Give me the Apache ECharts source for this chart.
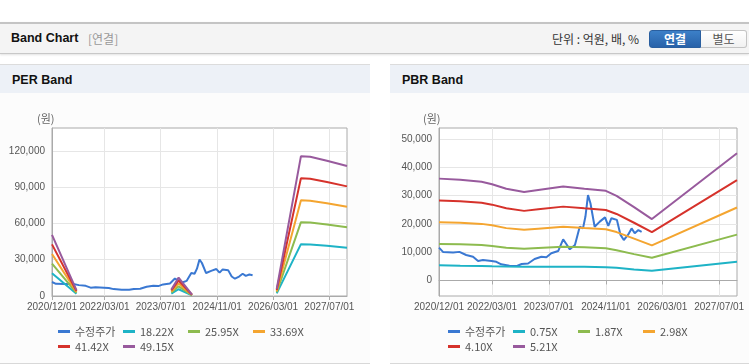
<!DOCTYPE html>
<html>
<head>
<meta charset="utf-8">
<script src="https://cdn.jsdelivr.net/npm/echarts@6/dist/echarts.min.js"></script>
<style>
  html, body { margin: 0; padding: 0; background: #fff; }
  body { width: 749px; height: 364px; position: relative; overflow: hidden; font-family: "Noto Sans CJK KR", Arial, sans-serif; }
  #top { position: absolute; left: 0; top: 22px; width: 749px; height: 29px; background: #f4f4f4; border-top: 2px solid #c4c4c4; border-bottom: 1px solid #c8c8c8; box-shadow: 0 1px 2px #e2e2e2; }
  #top .title { position: absolute; left: 11px; top: 7px; font: bold 12.5px Arial, sans-serif; color: #111; }
  #top .sub { position: absolute; left: 88px; top: 6px; font-size: 12px; color: #999; }
  #top .unit { position: absolute; left: 552px; top: 6px; font-size: 12px; color: #333; }
  .btn { position: absolute; top: 6px; height: 18px; line-height: 16px; text-align: center; font-size: 12px; font-weight: bold; box-sizing: border-box; }
  .btn.on { left: 649px; width: 52px; background: linear-gradient(#3c80c8, #2862a9); color: #fff; border-radius: 3px 0 0 3px; border: 1px solid #2a5f9f; }
  .btn.off { left: 701px; width: 46px; background: linear-gradient(#fff, #f1f1f1); color: #555; border: 1px solid #c4c4c4; border-left: none; border-radius: 0 3px 3px 0; font-weight: normal; }
  .panel { position: absolute; top: 64px; height: 298px; background: #fcfcfc; border-top: 1px solid #dcdcdc; border-bottom: 1px solid #d8d8d8; }
  .panel .hd { height: 28px; background: #edf1f7; font: bold 12.5px Arial, sans-serif; color: #111; line-height: 30px; padding-left: 12px; }
  #chart { position: absolute; left: 0; top: 0; width: 749px; height: 364px; }
</style>
</head>
<body>
<div id="top">
  <span class="title">Band Chart</span><span class="sub">[연결]</span>
  <span class="unit">단위 : 억원, 배, %</span>
  <span class="btn on">연결</span><span class="btn off">별도</span>
</div>
<div class="panel" style="left:0;width:370px;"><div class="hd">PER Band</div></div>
<div class="panel" style="left:390px;width:359px;"><div class="hd">PBR Band</div></div>
<div id="chart"></div>
<script>
// 수정주가 (shared by both charts)
var priceDates = ['2020-12-01','2021-01-04','2021-04-01','2021-05-25','2021-07-22','2021-09-19','2021-11-01','2021-12-13',
  '2022-02-25','2022-04-07','2022-05-19','2022-07-28','2022-10-01','2022-11-10','2023-01-04','2023-03-01','2023-04-28',
  '2023-06-10','2023-07-22','2023-09-19','2023-10-04','2023-11-01','2023-11-28','2023-12-28','2024-02-10','2024-03-22',
  '2024-04-19','2024-05-10','2024-06-01','2024-06-22','2024-07-28','2024-09-10','2024-10-25','2024-11-22','2024-12-19',
  '2025-02-04','2025-03-07','2025-04-04','2025-05-10','2025-06-10','2025-07-07','2025-08-07','2025-09-04'];
var priceValues = [11600,10100,9900,10100,9000,8400,6900,7200,
  6900,6600,5700,5200,5100,5800,6000,7600,8400,
  8200,9600,10400,10700,14500,12900,11000,12500,19000,
  18400,22600,30200,27300,19000,20800,22300,19300,22000,
  21400,16100,14300,16100,18400,16700,17800,17200];

// PER band (null = no band)
var perNames = ['수정주가','18.22X','25.95X','33.69X','41.42X','49.15X'];
var perBandDates = ['2020-12-01','2021-07-01','2022-06-01','2023-10-01','2023-12-03','2024-03-28','2025-06-01',
  '2026-04-01','2026-10-28','2027-01-16','2027-06-10','2027-12-01'];
var per18 = [18800,1800,null,2000,5600,500,null,2200,42900,42700,41500,39900];
var per26 = [26700,2600,null,2900,8000,600,null,3100,61100,60800,59100,56800];
var per34 = [34700,3400,null,3700,10400,800,null,4000,79300,78900,76700,73800];
var per41 = [42700,4100,null,4600,12800,1000,null,5000,97500,97000,94300,90700];
var per49 = [50600,4900,null,5400,15200,1200,null,5900,115700,115200,111900,107600];

// PBR band
var pbrNames = ['수정주가','0.75X','1.87X','2.98X','4.10X','5.21X'];
var pbrBandDates = ['2020-12-01','2021-06-01','2021-12-01','2022-03-01','2022-07-01','2022-12-01','2023-04-01',
  '2023-11-01','2024-05-01','2024-11-01','2025-02-01','2025-07-01','2025-12-01','2027-12-01'];
var pbr075 = [5400,5200,5100,5000,4900,4800,4800,4800,4800,4700,4500,3900,3400,6600];
var pbr187 = [12900,12800,12500,12200,11600,11200,11500,11900,11700,11400,10700,9300,8000,16200];
var pbr298 = [20600,20400,20000,19500,18500,17900,18300,19000,18500,18100,17100,14800,12400,25800];
var pbr410 = [28300,28000,27500,26800,25500,24600,25200,26100,25500,24900,23500,20400,17100,35500];
var pbr521 = [36000,35600,34900,34000,32400,31300,32000,33200,32400,31700,29900,25900,21700,45000];

var xTickDates = ['2020-12-01','2022-03-01','2023-07-01','2024-11-01','2026-03-01','2027-07-01'];
var xRange = ['2020-12-01','2027-12-01'];
var perYTicks = [0,30000,60000,90000,120000];
var pbrYTicks = [0,10000,20000,30000,40000,50000];

var colors = ['#3a78d2','#1eb3c6','#8dbb4f','#f4a530','#d6322b','#985a9d'];

function ts(s) {
  var p = s.split('-');
  return Date.UTC(+p[0], +p[1] - 1, +p[2]);
}
function pairs(dates, vals) {
  var out = [];
  for (var i = 0; i < dates.length; i++) out.push([ts(dates[i]), vals[i] == null ? '-' : vals[i]]);
  return out;
}
function fmtDate(v) {
  var d = new Date(v);
  var m = d.getUTCMonth() + 1, dd = d.getUTCDate();
  return d.getUTCFullYear() + '/' + (m < 10 ? '0' + m : m) + '/' + (dd < 10 ? '0' + dd : dd);
}
function fmtNum(v) {
  return String(v).replace(/\B(?=(\d{3})+(?!\d))/g, ',');
}

var labelFont = "Arial, 'Liberation Sans', sans-serif";
var xTicks = xTickDates.map(ts);

// x축은 timestamp 값축으로 (time 축은 customValues 미지원)
function xAxisOf(idx) {
  return {
    type: 'value', gridIndex: idx, min: ts(xRange[0]), max: ts(xRange[1]),
    axisLine: { lineStyle: { color: '#aaa' } },
    axisTick: { show: true, length: 4, customValues: xTicks, lineStyle: { color: '#aaa' } },
    axisLabel: { customValues: xTicks, formatter: fmtDate, color: '#555', fontSize: 10, fontFamily: labelFont,
      margin: 6, showMinLabel: true, hideOverlap: false },
    splitLine: { show: true, lineStyle: { color: '#e6e6e6' } }
  };
}
function yAxisOf(idx, min, max, ticks) {
  return {
    type: 'value', gridIndex: idx, min: min, max: max,
    axisLine: { show: true, lineStyle: { color: '#aaa' } },
    axisTick: { show: false, customValues: ticks },
    axisLabel: { customValues: ticks, formatter: fmtNum, color: '#555', fontSize: 10, fontFamily: labelFont, margin: 7 },
    splitLine: { show: true, lineStyle: { color: '#e6e6e6' } }
  };
}
function line(name, idx, data, color) {
  return {
    name: name, type: 'line', xAxisIndex: idx, yAxisIndex: idx, data: data,
    showSymbol: false, symbol: 'none', connectNulls: false, animation: false,
    lineStyle: { width: 2, color: color }, itemStyle: { color: color }
  };
}

var chart = echarts.init(document.getElementById('chart'));
var perBands = [per18, per26, per34, per41, per49];
var pbrBands = [pbr075, pbr187, pbr298, pbr410, pbr521];
var series = [line(perNames[0], 0, pairs(priceDates, priceValues), colors[0])];
for (var i = 0; i < 5; i++) series.push(line(perNames[i + 1], 0, pairs(perBandDates, perBands[i]), colors[i + 1]));
series.push(line(pbrNames[0], 1, pairs(priceDates, priceValues), colors[0]));
for (var j = 0; j < 5; j++) series.push(line(pbrNames[j + 1], 1, pairs(pbrBandDates, pbrBands[j]), colors[j + 1]));

function legendOf(names, left) {
  return {
    data: names, left: left, top: 321, width: 272, orient: 'horizontal',
    icon: 'rect', itemWidth: 12, itemHeight: 3, itemGap: 4,
    textStyle: { color: '#555', fontSize: 11, width: 44, lineHeight: 11, fontFamily: "'Noto Sans CJK KR', Arial, sans-serif" },
    selectedMode: false
  };
}

chart.setOption({
  animation: false,
  grid: [
    { left: 52, top: 128, width: 295, height: 168, show: true, borderColor: '#aaa', borderWidth: 1, backgroundColor: '#fff' },
    { left: 439, top: 128, width: 298, height: 168, show: true, borderColor: '#aaa', borderWidth: 1, backgroundColor: '#fff' }
  ],
  xAxis: [xAxisOf(0), xAxisOf(1)],
  yAxis: [yAxisOf(0, 0, 139000, perYTicks), yAxisOf(1, -5500, 53900, pbrYTicks)],
  legend: [legendOf(perNames, 53), legendOf(pbrNames, 443)],
  graphic: [
    { type: 'text', left: 37, top: 113, style: { text: '(원)', fill: '#666', font: "11px 'Noto Sans CJK KR', sans-serif" } },
    { type: 'text', left: 423, top: 113, style: { text: '(원)', fill: '#666', font: "11px 'Noto Sans CJK KR', sans-serif" } }
  ],
  series: series
});
</script>
</body>
</html>
